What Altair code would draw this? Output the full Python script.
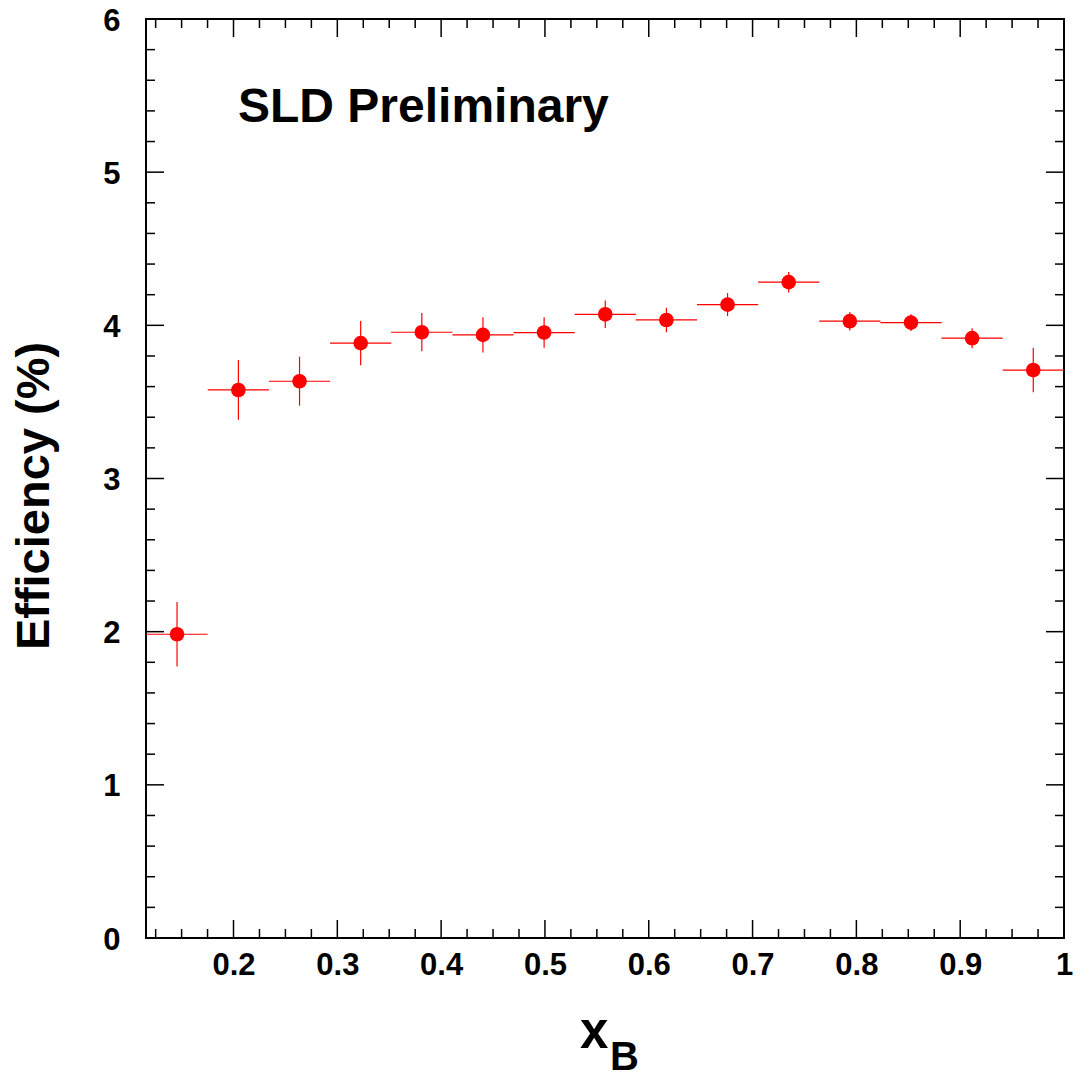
import altair as alt
import pandas as pd

# ---- data ----
xb = [0.1456, 0.2047, 0.2636, 0.3225, 0.3814, 0.4403, 0.4992, 0.5581,
      0.6170, 0.6759, 0.7348, 0.7937, 0.8526, 0.9115, 0.9704]
xb_err = [0.0295, 0.0295, 0.0295, 0.0295, 0.0295, 0.0295, 0.0295, 0.0295,
          0.0295, 0.0295, 0.0295, 0.0295, 0.0295, 0.0295, 0.0295]
eff = [1.983, 3.578, 3.635, 3.884, 3.955, 3.938, 3.953, 4.072,
       4.035, 4.135, 4.282, 4.027, 4.018, 3.916, 3.708]
eff_err = [0.21, 0.195, 0.16, 0.145, 0.125, 0.115, 0.10, 0.09,
           0.08, 0.075, 0.067, 0.06, 0.055, 0.065, 0.145]

x_major = [0.2, 0.3, 0.4, 0.5, 0.6, 0.7, 0.8, 0.9, 1.0]
x_minor = [round(0.125 + 0.025 * i, 4) for i in range(36)]
x_minor = [v for v in x_minor if all(abs(v - m) > 1e-6 for m in x_major) and v < 1.0]
y_major = [0, 1, 2, 3, 4, 5, 6]
y_minor = [round(0.2 * i, 3) for i in range(31)]
y_minor = [v for v in y_minor if abs(v - round(v)) > 1e-6]

W, H = 918, 919
FONT = "Liberation Sans"
RED = "#ff0000"

df = pd.DataFrame({
    "xb": xb,
    "xlo": [a - b for a, b in zip(xb, xb_err)],
    "xhi": [a + b for a, b in zip(xb, xb_err)],
    "eff": eff,
    "ylo": [a - b for a, b in zip(eff, eff_err)],
    "yhi": [a + b for a, b in zip(eff, eff_err)],
})

xscale = alt.Scale(domain=[0.1157, 1.0], nice=False, zero=False)
yscale = alt.Scale(domain=[0, 6], nice=False, zero=False)

xaxis = alt.Axis(values=x_major, format=".1~f", labelFont=FONT, labelFontSize=31,
                 labelFontWeight="bold", labelColor="black", labelPadding=12,
                 labelFlush=False, ticks=False, tickSize=0, domain=False, grid=False,
                 title=None)
yaxis = alt.Axis(values=y_major, format="d", labelFont=FONT, labelFontSize=31,
                 labelFontWeight="bold", labelColor="black", labelPadding=26,
                 labelOffset=2, labelFlush=False,
                 ticks=False, tickSize=0, domain=False, grid=False, title=None)

base = alt.Chart(df)

hbar = base.mark_rule(color=RED, strokeWidth=1.2).encode(
    x=alt.X("xlo:Q", scale=xscale, axis=xaxis), x2="xhi:Q",
    y=alt.Y("eff:Q", scale=yscale, axis=yaxis))
vbar = base.mark_rule(color=RED, strokeWidth=1.2).encode(
    x=alt.X("xb:Q", scale=xscale), y=alt.Y("ylo:Q", scale=yscale), y2="yhi:Q")
pts = base.mark_circle(color=RED, size=215, opacity=1).encode(
    x=alt.X("xb:Q", scale=xscale), y=alt.Y("eff:Q", scale=yscale))

def yticks(vals, length):
    d = alt.Chart(pd.DataFrame({"v": vals}))
    left = d.mark_rule(color="black", strokeWidth=1.5).encode(
        y=alt.Y("v:Q", scale=yscale), x=alt.value(0), x2=alt.value(length))
    right = d.mark_rule(color="black", strokeWidth=1.5).encode(
        y=alt.Y("v:Q", scale=yscale), x=alt.value(W), x2=alt.value(W - length))
    return left + right

def xticks(vals, length):
    d = alt.Chart(pd.DataFrame({"v": vals}))
    bot = d.mark_rule(color="black", strokeWidth=1.5).encode(
        x=alt.X("v:Q", scale=xscale), y=alt.value(H), y2=alt.value(H - length))
    top = d.mark_rule(color="black", strokeWidth=1.5).encode(
        x=alt.X("v:Q", scale=xscale), y=alt.value(0), y2=alt.value(length))
    return bot + top

sld = alt.Chart(pd.DataFrame({"t": ["SLD Preliminary"]})).mark_text(
    font=FONT, fontSize=48, fontWeight="bold", align="left",
    baseline="alphabetic", color="black").encode(
    text="t:N", x=alt.value(92), y=alt.value(103))

ytitle = alt.Chart(pd.DataFrame({"t": ["Efficiency (%)"]})).mark_text(
    font=FONT, fontSize=47, fontWeight="bold", align="center", baseline="middle",
    angle=270, color="black").encode(text="t:N", x=alt.value(-111), y=alt.value(477))

xt1 = alt.Chart(pd.DataFrame({"t": ["x"]})).mark_text(
    font=FONT, fontSize=51, fontWeight="bold", align="left", baseline="alphabetic",
    color="black").encode(text="t:N", x=alt.value(434), y=alt.value(1029))
xt2 = alt.Chart(pd.DataFrame({"t": ["B"]})).mark_text(
    font=FONT, fontSize=40, fontWeight="bold", align="left", baseline="alphabetic",
    color="black").encode(text="t:N", x=alt.value(464), y=alt.value(1051))

chart = alt.layer(
    hbar, vbar, pts,
    yticks(y_major, 18), yticks(y_minor, 9),
    xticks(x_major, 18), xticks(x_minor, 9),
    sld, ytitle, xt1, xt2,
).properties(
    width=W, height=H,
    autosize=alt.AutoSizeParams(type="none"),
    padding={"left": 138, "top": 11, "right": 9, "bottom": 136},
).configure_view(stroke="black", strokeWidth=2)

chart.save("out.html", embed_options={"renderer": "svg", "actions": False})
